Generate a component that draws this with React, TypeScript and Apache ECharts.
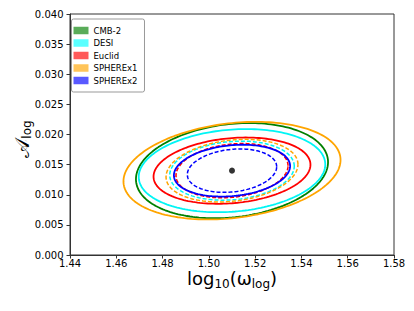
import { useEffect, useRef } from 'react';
import * as echarts from 'echarts';

// ---- data ----
const experiments = ['CMB-2', 'DESI', 'Euclid', 'SPHEREx1', 'SPHEREx2'];
const lineColors = ['#008000', '#00f5f5', '#ff0000', '#ffa500', '#0000ff'];
const patchColors = ['#59ac59', '#59ffff', '#ff5959', '#ffc459', '#5959ff'];
const fiducial = [1.51, 0.014];
// outer (solid) contours: sigma along x, sigma along y, correlation
const solidSigmaX = [0.0415, 0.0403, 0.0339, 0.0469, 0.0251];
const solidSigmaY = [0.0079, 0.0069, 0.0055, 0.0081, 0.0043];
const solidRho = [0.18, 0.15, 0.18, 0.22, 0.18];
// inner (dashed) contours; null = not drawn
const dashedSigmaX = [null, 0.0269, 0.0242, 0.0285, 0.0193];
const dashedSigmaY = [null, 0.0049, 0.0045, 0.0052, 0.0036];
const dashedRho = [null, 0.15, 0.18, 0.2, 0.18];
const xMin = 1.44, xMax = 1.58, xStep = 0.02;
const yMin = 0, yMax = 0.04, yStep = 0.005;
// axis titles: [text, isSubscript]
const xTitleParts: [string, boolean][] = [['log', false], ['10', true], ['(ω', false], ['log', true], [')', false]];
const yTitleParts: [string, boolean][] = [['𝒜', false], ['log', true]];

const FONT = 'DejaVu Sans';

function contour(sx: number, sy: number, rho: number): number[][] {
  const pts: number[][] = [];
  const n = 180;
  const k = Math.sqrt(1 - rho * rho);
  for (let i = 0; i <= n; i++) {
    const t = (i / n) * Math.PI * 2;
    pts.push([
      fiducial[0] + sx * Math.cos(t),
      fiducial[1] + sy * (rho * Math.cos(t) + k * Math.sin(t)),
    ]);
  }
  return pts;
}

let measureCtx: CanvasRenderingContext2D | null = null;
function textWidth(text: string, size: number, family: string): number {
  if (!measureCtx) measureCtx = document.createElement('canvas').getContext('2d');
  if (!measureCtx) return text.length * size * 0.6;
  measureCtx.font = `${size}px ${family}`;
  return measureCtx.measureText(text).width;
}

// build a row of text pieces (main + subscripts) centred on x = 0 in local coordinates
function titlePieces(parts: [string, boolean][], mainSize: number, subSize: number,
  mainFamily: string, subShift: number): any[] {
  const widths = parts.map(([t, sub]) =>
    textWidth(t, sub ? subSize : mainSize, sub ? FONT : mainFamily));
  const total = widths.reduce((a, b) => a + b, 0);
  let x = -total / 2;
  const mainBase = 0.32 * mainSize;
  return parts.map(([t, sub], i) => {
    const size = sub ? subSize : mainSize;
    const base = sub ? mainBase + subShift : mainBase;
    const el = {
      type: 'text', x, y: base - 0.32 * size,
      style: {
        text: t, fontSize: size, fontFamily: sub ? FONT : mainFamily,
        fill: '#000', align: 'left', verticalAlign: 'middle',
        lineHeight: sub ? 10 : 12,
      },
    };
    x += widths[i];
    return el;
  });
}

export default function App() {
  const ref = useRef<HTMLDivElement>(null);
  useEffect(() => {
    if (!ref.current) return;
    const chart = echarts.init(ref.current, undefined, { renderer: 'svg' });
    const series: any[] = [];
    experiments.forEach((name, i) => {
      series.push({
        name,
        type: 'line',
        data: contour(solidSigmaX[i], solidSigmaY[i], solidRho[i]),
        showSymbol: false,
        symbol: 'none',
        silent: true,
        lineStyle: { color: lineColors[i], width: 1.8, type: 'solid' },
        itemStyle: { color: patchColors[i] },
        z: 2 + i,
      });
      const dx = dashedSigmaX[i];
      if (dx != null) {
        series.push({
          name,
          type: 'line',
          data: contour(dx, dashedSigmaY[i] as number, dashedRho[i] as number),
          showSymbol: false,
          symbol: 'none',
          silent: true,
          lineStyle: { color: lineColors[i], width: 1.5, type: [4, 2] },
          itemStyle: { color: patchColors[i] },
          z: 2 + i,
        });
      }
    });
    series.push({
      type: 'scatter',
      data: [fiducial],
      symbolSize: 6,
      itemStyle: { color: '#000' },
      silent: true,
      z: 20,
    });

    chart.setOption({
      animation: false,
      grid: {
        left: 70, top: 14, width: 324, height: 241,
        show: true, borderColor: '#333', borderWidth: 1,
        backgroundColor: 'transparent',
      },
      xAxis: {
        type: 'value', min: xMin, max: xMax, interval: xStep,
        axisLine: { show: true, lineStyle: { color: '#333', width: 1 } },
        axisTick: { show: true, length: 3.5, lineStyle: { color: '#333' } },
        axisLabel: {
          fontSize: 10, fontFamily: FONT, color: '#000', margin: 3.5,
          formatter: (v: number) => v.toFixed(2),
        },
        splitLine: { show: false },
      },
      yAxis: {
        type: 'value', min: yMin, max: yMax, interval: yStep,
        axisLine: { show: true, lineStyle: { color: '#333', width: 1 } },
        axisTick: { show: true, length: 3.5, lineStyle: { color: '#333' } },
        axisLabel: {
          fontSize: 10, fontFamily: FONT, color: '#000', margin: 6.5,
          formatter: (v: number) => v.toFixed(3),
        },
        splitLine: { show: false },
      },
      legend: {
        orient: 'vertical',
        left: 71.5, top: 19,
        padding: [7, 7, 7, 2],
        itemWidth: 15, itemHeight: 7.5, itemGap: 3.5,
        icon: 'rect',
        backgroundColor: '#fff',
        borderColor: '#999', borderWidth: 1, borderRadius: 2,
        textStyle: { fontSize: 8.5, fontFamily: FONT, color: '#000', lineHeight: 9 },
        data: experiments.map((name, i) => ({
          name, icon: 'rect',
          itemStyle: { color: patchColors[i], borderWidth: 0 },
        })),
        selectedMode: false,
      },
      graphic: [
        {
          type: 'group', x: 232, y: 278.5,
          children: titlePieces(xTitleParts, 18, 12, FONT, 4),
        },
        {
          type: 'group', x: 22, y: 139, rotation: Math.PI / 2,
          children: titlePieces(yTitleParts, 20, 12, 'DejaVu Sans, DejaVu Serif', 2.5),
        },
      ],
      series,
    });
    return () => chart.dispose();
  }, []);
  return (
    <div
      ref={ref}
      style={{ position: 'fixed', left: 0, top: 0, width: 414, height: 311, background: '#fff' }}
    />
  );
}
